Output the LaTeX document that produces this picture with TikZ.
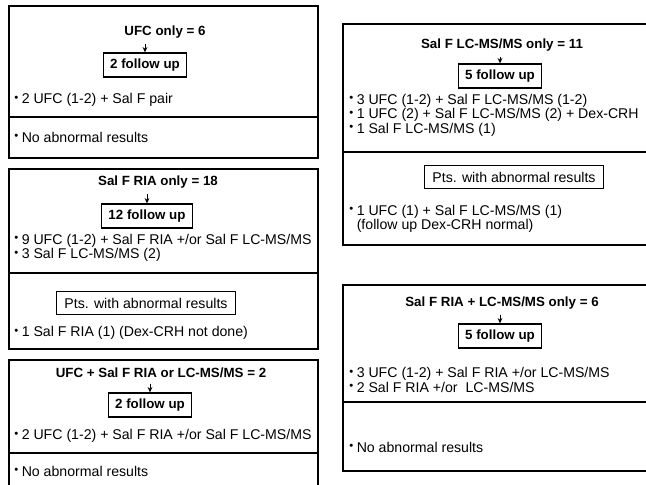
\documentclass[tikz,border=0pt]{standalone}
\usepackage{fontspec}
\setmainfont{Liberation Sans}
\usepackage{graphicx}
\usetikzlibrary{arrows.meta}
\newcommand{\bul}{\raisebox{0.35ex}{\scalebox{0.8}{\textbullet}}\hspace{0.25em}}
\tikzset{
  panel/.style={line width=2.2pt},
  divider/.style={line width=0.9pt},
  headtxt/.style={font=\bfseries, inner sep=1pt},
  fubox/.style={draw, line width=1pt, font=\bfseries, inner xsep=5pt, minimum height=18pt},
  ptsbox/.style={draw, line width=0.8pt, inner xsep=6pt, minimum height=17pt},
  entry/.style={anchor=west, inner sep=0pt, align=left},
  down/.style={-{Stealth[length=4pt,width=3.6pt]}, line width=0.6pt, shorten <=3pt}
}

\begin{document}
\begin{tikzpicture}[x=0.75pt,y=-0.75pt,font=\fontsize{10.6}{10.9}\selectfont]
    \clip (0,0) rectangle (646,485);

    % Panels
    \draw[panel] (9,6) rectangle (318,158);
    \draw[divider] (9,117) -- (318,117);
    \draw[panel] (9,169) rectangle (318,349);
    \draw[divider] (9,273) -- (318,273);
    \draw[panel] (9,360) rectangle (318,500);
    \draw[divider] (9,453) -- (318,453);
    \draw[panel] (343,24) rectangle (670,245);
    \draw[divider] (343,152) -- (670,152);
    \draw[panel] (343,285) rectangle (670,471);
    \draw[divider] (343,402) -- (670,402);

    % UFC only
    \node[headtxt] (ufc) at (165,32) {UFC only = 6};
    \node[fubox] (ufcfu) at (145,65) {2 follow up};
    \draw[down] (ufcfu.north |- ufc.south) -- (ufcfu.north);
    \node[entry] (ufcb) at (14,100) {\bul 2 UFC (1-2) + Sal F pair};
    \node[entry] (ufcres) at (14,137) {\bul No abnormal results};

    % Sal F RIA only
    \node[headtxt] (ria) at (158,182) {Sal F RIA only = 18};
    \node[fubox] (riafu) at (147,216) {12 follow up};
    \draw[down] (riafu.north |- ria.south) -- (riafu.north);
    \node[entry] (riab) at (14,248) {\bul 9 UFC (1-2) + Sal F RIA +/or Sal F LC-MS/MS\\\bul 3 Sal F LC-MS/MS (2)};
    \node[ptsbox] (riapts) at (146,303) {Pts. with abnormal results};
    \node[entry] (riares) at (14,333) {\bul 1 Sal F RIA (1) (Dex-CRH not done)};

    % UFC + Sal F
    \node[headtxt] (mix) at (161,373) {UFC + Sal F RIA or LC-MS/MS = 2};
    \node[fubox] (mixfu) at (150,405) {2 follow up};
    \draw[down] (mixfu.north |- mix.south) -- (mixfu.north);
    \node[entry] (mixb) at (14,436) {\bul 2 UFC (1-2) + Sal F RIA +/or Sal F LC-MS/MS};
    \node[entry] (mixres) at (14,471) {\bul No abnormal results};

    % Sal F LC-MS/MS only
    \node[headtxt] (lc) at (502,45) {Sal F LC-MS/MS only = 11};
    \node[fubox] (lcfu) at (500,76) {5 follow up};
    \draw[down] (lcfu.north |- lc.south) -- (lcfu.north);
    \node[entry] (lcb) at (349,115) {\bul 3 UFC (1-2) + Sal F LC-MS/MS (1-2)\\\bul 1 UFC (2) + Sal F LC-MS/MS (2) + Dex-CRH\\\bul 1 Sal F LC-MS/MS (1)};
    \node[ptsbox] (lcpts) at (514,177) {Pts. with abnormal results};
    \node[entry] (lcres) at (349,219) {\bul 1 UFC (1) + Sal F LC-MS/MS (1)\\\phantom{\bul}(follow up Dex-CRH normal)};

    % Sal F RIA + LC-MS/MS
    \node[headtxt] (both) at (502,303) {Sal F RIA + LC-MS/MS only = 6};
    \node[fubox] (bothfu) at (500,336) {5 follow up};
    \draw[down] (bothfu.north |- both.south) -- (bothfu.north);
    \node[entry] (bothb) at (349,380) {\bul 3 UFC (1-2) + Sal F RIA +/or LC-MS/MS\\\bul 2 Sal F RIA +/or\ \ LC-MS/MS};
    \node[entry] (bothres) at (349,447) {\bul No abnormal results};
\end{tikzpicture}
\end{document}
